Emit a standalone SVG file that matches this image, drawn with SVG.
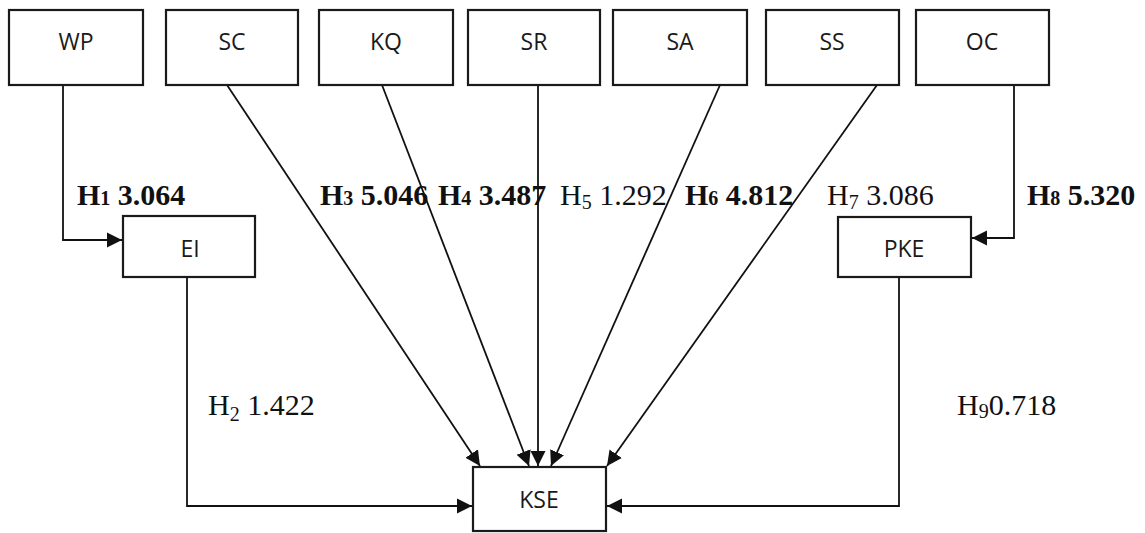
<svg xmlns="http://www.w3.org/2000/svg" width="1145" height="533" viewBox="0 0 1145 533">
<style>
.box{fill:#fff;stroke:#1a1a1a;stroke-width:2.2}
.nt{font-family:"Open Sans","DejaVu Sans",sans-serif;font-size:23px;fill:#1a1a1a;text-anchor:middle}
.ln{fill:none;stroke:#111;stroke-width:1.8}
.lb{font-family:"Liberation Serif","Times New Roman",serif;font-size:30px;fill:#111}
.b{font-weight:bold}
.sub{font-size:20px}
</style>
<defs>
<marker id="ah" markerUnits="userSpaceOnUse" markerWidth="16" markerHeight="16" viewBox="0 0 16 16" refX="15" refY="8" orient="auto">
<path d="M0,0.5 L15,8 L0,15.5 Z" fill="#111"/>
</marker>
</defs>
<rect width="1145" height="533" fill="#fff"/>
<g id="connectors">
<polyline class="ln" points="63,85 63,240 122,240" marker-end="url(#ah)"/>
<polyline class="ln" points="1014,85 1014,238 972,238" marker-end="url(#ah)"/>
<polyline class="ln" points="187,277 187,506 472,506" marker-end="url(#ah)"/>
<polyline class="ln" points="899,277 899,506 607,506" marker-end="url(#ah)"/>
<line class="ln" x1="227" y1="85" x2="480" y2="466" marker-end="url(#ah)"/>
<line class="ln" x1="382" y1="85" x2="529" y2="466" marker-end="url(#ah)"/>
<line class="ln" x1="538" y1="85" x2="538" y2="466" marker-end="url(#ah)"/>
<line class="ln" x1="720" y1="85" x2="551" y2="466" marker-end="url(#ah)"/>
<line class="ln" x1="877" y1="85" x2="607" y2="466" marker-end="url(#ah)"/>
</g>
<g id="labels">
<text class="lb b" x="77" y="205">H<tspan class="sub">1</tspan> 3.064</text>
<text class="lb b" x="320" y="205">H<tspan class="sub">3</tspan> 5.046</text>
<text class="lb b" x="438" y="205">H<tspan class="sub">4</tspan> 3.487</text>
<text class="lb" x="560" y="205">H<tspan class="sub" dy="4">5</tspan><tspan dy="-4"> 1.292</tspan></text>
<text class="lb b" x="685" y="205">H<tspan class="sub">6</tspan> 4.812</text>
<text class="lb" x="827" y="205">H<tspan class="sub" dy="4">7</tspan><tspan dy="-4"> 3.086</tspan></text>
<text class="lb b" x="1027" y="205">H<tspan class="sub">8</tspan> 5.320</text>
<text class="lb" x="208" y="415">H<tspan class="sub" dy="6">2</tspan><tspan dy="-6"> 1.422</tspan></text>
<text class="lb" x="957" y="415">H<tspan class="sub" dy="3">9</tspan><tspan dy="-3">0.718</tspan></text>
</g>
<g id="WP"><rect class="box" x="9" y="10" width="134" height="75"/><text class="nt" x="76" y="50">WP</text></g>
<g id="SC"><rect class="box" x="166" y="10" width="132" height="75"/><text class="nt" x="232" y="50">SC</text></g>
<g id="KQ"><rect class="box" x="319" y="10" width="134" height="75"/><text class="nt" x="386" y="50">KQ</text></g>
<g id="SR"><rect class="box" x="468" y="10" width="132" height="75"/><text class="nt" x="534" y="50">SR</text></g>
<g id="SA"><rect class="box" x="613" y="10" width="134" height="75"/><text class="nt" x="680" y="50">SA</text></g>
<g id="SS"><rect class="box" x="766" y="10" width="133" height="75"/><text class="nt" x="832" y="50">SS</text></g>
<g id="OC"><rect class="box" x="916" y="10" width="133" height="75"/><text class="nt" x="982" y="50">OC</text></g>
<g id="EI"><rect class="box" x="123" y="216" width="132" height="61"/><text class="nt" x="190" y="257">EI</text></g>
<g id="PKE"><rect class="box" x="838" y="217" width="133" height="60"/><text class="nt" x="904" y="257">PKE</text></g>
<g id="KSE"><rect class="box" x="473" y="467" width="133" height="64"/><text class="nt" x="539" y="508">KSE</text></g>
</svg>
